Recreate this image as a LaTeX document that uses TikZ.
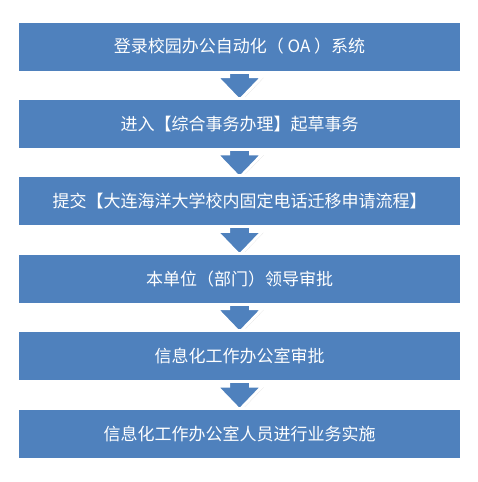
\documentclass[tikz,border=0pt]{standalone}
\usepackage{fontspec}
\newfontfamily\cjk{Noto Sans CJK SC}
\usetikzlibrary{calc,shadows,backgrounds}
\definecolor{boxblue}{HTML}{4F81BD}
\tikzset{
  stepbox/.style={draw=white, line width=3pt, fill=boxblue, outer sep=0pt,
    minimum width=444pt, minimum height=51pt, inner sep=0pt,
    text=white, font=\cjk\fontsize{17}{19}\selectfont,
    drop shadow={shadow xshift=1.5pt, shadow yshift=-1.5pt, opacity=0.3, fill=black!50}},
  flowarr/.style={draw=white, line width=3pt, fill=boxblue, line join=miter,
    drop shadow={shadow xshift=1.2pt, shadow yshift=-1.2pt, opacity=0.3, fill=black!50}}
}
\newcommand\flowarrow[2]{%
  \draw[flowarr] ($(#1.south)+(-11,-3)$) -- ($(#1.south)+(-11,4.5)$) -- ($(#1.south)+(-23,4.5)$)
    -- ($(#2.north)+(0,2)$) -- ($(#1.south)+(23,4.5)$) -- ($(#1.south)+(11,4.5)$)
    -- ($(#1.south)+(11,-3)$) -- cycle;}
\begin{document}
\begin{tikzpicture}[x=1pt,y=-1pt]
\useasboundingbox (0,0) rectangle (477,482);
\node[stepbox] (b1) at (239.5,46.5) {登录校园办公自动化（ OA ）系统};
\node[stepbox] (b2) at (239.5,123.9) {进入【综合事务办理】起草事务};
\node[stepbox] (b3) at (239.5,201.3) {提交【大连海洋大学校内固定电话迁移申请流程】};
\node[stepbox] (b4) at (239.5,278.7) {本单位（部门）领导审批};
\node[stepbox] (b5) at (239.5,356.1) {信息化工作办公室审批};
\node[stepbox] (b6) at (239.5,433.5) {信息化工作办公室人员进行业务实施};
\begin{scope}[on background layer]
\fill[white] (0,0) rectangle (477,482);
\flowarrow{b1}{b2}
\flowarrow{b2}{b3}
\flowarrow{b3}{b4}
\flowarrow{b4}{b5}
\flowarrow{b5}{b6}
\end{scope}
\end{tikzpicture}
\end{document}
